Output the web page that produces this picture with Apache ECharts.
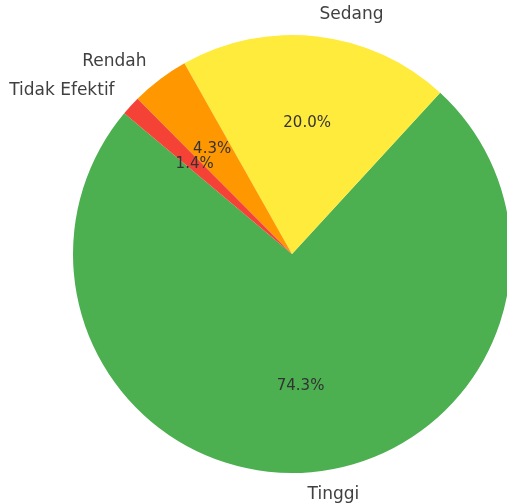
<!DOCTYPE html>
<html><head><meta charset="utf-8">
<script src="https://cdn.jsdelivr.net/npm/echarts@6/dist/echarts.min.js"></script>
<style>html,body{margin:0;padding:0;background:#fff}#c{width:507px;height:504px}</style>
</head><body><div id="c"></div>
<script>
const categories = ['Tinggi', 'Sedang', 'Rendah', 'Tidak Efektif'];
const counts = [52, 14, 3, 1];
const colors = ['#4CAF50', '#FFEB3B', '#FF9800', '#F44336'];

const R = 219;
const center = [292, 254];
const total = counts.reduce((a, b) => a + b, 0);
const data = categories.map((c, i) => ({ name: c, value: counts[i], itemStyle: { color: colors[i] } }));

const chart = echarts.init(document.getElementById('c'), null, { renderer: 'canvas' });
chart.setOption({
  animation: false,
  series: [
    {
      type: 'pie',
      center: center,
      radius: [0, R],
      startAngle: 140,
      clockwise: false,
      avoidLabelOverlap: false,
      silent: true,
      data: data,
      label: {
        show: true,
        position: 'outside',
        formatter: '{b}',
        fontFamily: 'DejaVu Sans',
        fontSize: 17,
        color: '#404040',
        distanceToLabelLine: 0
      },
      labelLine: { show: false, length: R * 0.1, length2: 0 }
    },
    {
      type: 'pie',
      center: center,
      radius: [R * 0.18, R],
      startAngle: 140,
      clockwise: false,
      avoidLabelOverlap: false,
      silent: true,
      data: data.map(d => ({ name: d.name, value: d.value, itemStyle: { color: 'rgba(0,0,0,0)' } })),
      label: {
        show: true,
        position: 'inside',
        formatter: p => (p.value / total * 100).toFixed(1) + '%',
        fontFamily: 'DejaVu Sans',
        fontSize: 15,
        color: '#333'
      },
      labelLine: { show: false }
    }
  ]
});
</script></body></html>
